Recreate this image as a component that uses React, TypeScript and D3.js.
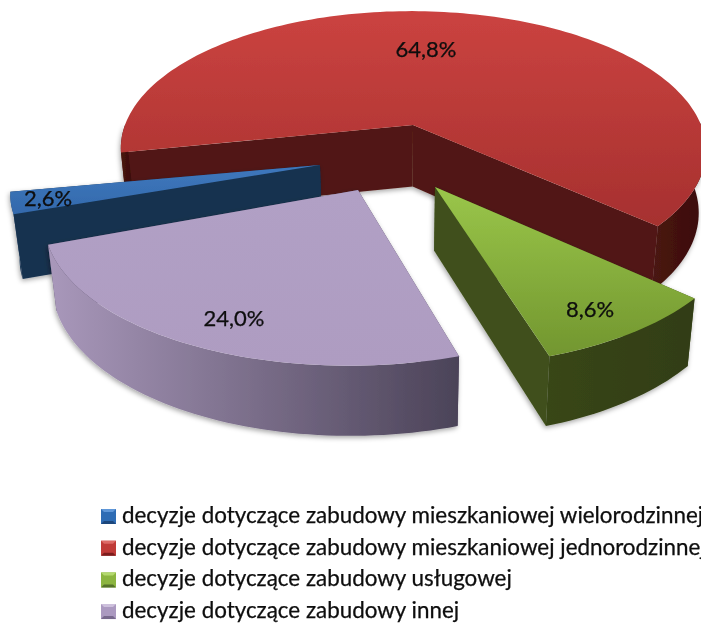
import React from "react";
import * as d3 from "d3";

const categories = [
  "decyzje dotyczące zabudowy mieszkaniowej wielorodzinnej",
  "decyzje dotyczące zabudowy mieszkaniowej jednorodzinnej",
  "decyzje dotyczące zabudowy usługowej",
  "decyzje dotyczące zabudowy innej",
];
const values = [2.6, 64.8, 8.6, 24.0];
const valueLabels = ["2,6%", "64,8%", "8,6%", "24,0%"];

const W = 701, H = 623;
const rad = (d: number) => (d * Math.PI) / 180;
const FIRST_ANGLE = rad(249.2);
const PERSPECTIVE = 0.176;
const VANISH_X = 400;

// per-slice placement of the exploded wedges: apex, radius, tilt, label position
const geometry = [
  { ax: 320, ay: 165, R: 302, k: 0.43, lx: 48, ly: 198 },
  { ax: 413, ay: 125, R: 288, k: 0.465, lx: 426, ly: 49 },
  { ax: 435, ay: 187, R: 302, k: 0.488, lx: 590, ly: 309 },
  { ax: 358, ay: 190, R: 308, k: 0.47, lx: 234, ly: 318 },
];
const palette = [
  { id: "b", top0: "#3f78bd", top1: "#3369ac", radial: "#163250", outer0: "#1a3a5e", outer1: "#163250", sw: "#2f6cb4", hi: "#5f97d8", lo: "#1c477c" },
  { id: "r", top0: "#cb4340", top1: "#a6302f", radial: "#511713", outer0: "#4a1412", outer1: "#3a0e0d", sw: "#c03a38", hi: "#dd6a66", lo: "#7c1f1e" },
  { id: "g", top0: "#9ac64a", top1: "#72962f", radial: "#3f501b", outer0: "#384617", outer1: "#323d13", sw: "#8cb53f", hi: "#b4d96e", lo: "#55722a" },
  { id: "p", top0: "#b1a0c5", top1: "#ae9cc1", radial: "#4d455c", outer0: "#a998bb", outer1: "#4b4358", sw: "#ab99c0", hi: "#cdc0dc", lo: "#77688c" },
];
const paintOrder = [1, 0, 3, 2];

const pie = d3.pie<number>().sort(null).startAngle(FIRST_ANGLE).endAngle(FIRST_ANGLE + 2 * Math.PI);
const arcs = pie(values);
const line = d3.line<[number, number]>();

type G = (typeof geometry)[number];
type P = [number, number];
function project(g: G, phi: number): P {
  const u = Math.sin(phi), v = -Math.cos(phi);
  const s = 1 / (1 - PERSPECTIVE * v);
  return [g.ax + (g.ax - VANISH_X) * (s - 1) + g.R * u * s, g.ay + g.R * g.k * v * s];
}
function drop(p: P): P {
  const d = 57 + 0.036 * p[1];
  return [p[0] + (VANISH_X - p[0]) * 0.0237, p[1] + d];
}
const closed = (pts: P[]) => (line(pts) as string) + "Z";

// runs of the rim that face the viewer, sampled along the slice's arc
function frontRuns(g: G, a0: number, a1: number): P[][] {
  const n = Math.max(8, Math.ceil(((a1 - a0) / Math.PI) * 120));
  const runs: P[][] = [];
  let cur: P[] = [];
  d3.range(n + 1).forEach((i) => {
    const phi = a0 + ((a1 - a0) * i) / n;
    if (-Math.cos(phi) >= -0.03) cur.push(project(g, phi));
    else if (cur.length) {
      runs.push(cur);
      cur = [];
    }
  });
  if (cur.length) runs.push(cur);
  return runs;
}
function rim(g: G, a0: number, a1: number): P[] {
  const n = Math.max(8, Math.ceil(((a1 - a0) / Math.PI) * 120));
  return d3.range(n + 1).map((i) => project(g, a0 + ((a1 - a0) * i) / n));
}

const SW = 15;

export default function App() {
  return (
    <svg width={W} height={H} viewBox={`0 0 ${W} ${H}`} style={{ position: "absolute", left: 0, top: 0, background: "#fff" }}>
      <defs>
        <filter id="soft" x="-10%" y="-10%" width="120%" height="120%">
          <feGaussianBlur stdDeviation="0.6" />
        </filter>
        <filter id="txt" x="-5%" y="-20%" width="110%" height="140%">
          <feGaussianBlur stdDeviation="0.4" />
        </filter>
        <filter id="shadow" x="-10%" y="-10%" width="120%" height="120%">
          <feDropShadow dx="-1" dy="2" stdDeviation="2.5" floodColor="#000" floodOpacity="0.35" />
        </filter>
        {palette.map((c) => (
          <React.Fragment key={c.id}>
            <linearGradient id={`top-${c.id}`} x1="0" y1="0" x2="0" y2="1">
              <stop offset="0" stopColor={c.top0} />
              <stop offset="1" stopColor={c.top1} />
            </linearGradient>
            <linearGradient id={`outer-${c.id}`} x1="0" y1="0" x2="1" y2="0">
              <stop offset="0" stopColor={c.outer0} />
              <stop offset="1" stopColor={c.outer1} />
            </linearGradient>
          </React.Fragment>
        ))}
      </defs>
      <g filter="url(#soft)">
        {paintOrder.map((i) => {
          const a = arcs[i], g = geometry[i], c = palette[i];
          const edge = rim(g, a.startAngle, a.endAngle);
          const apex: P = [g.ax, g.ay];
          const first = edge[0], last = edge[edge.length - 1];
          const wall = (p: P, q: P) => closed([p, q, drop(q), drop(p)]);
          return (
            <g key={c.id}>
              <g filter="url(#shadow)">
                <path d={wall(apex, first)} fill={c.radial} />
                <path d={wall(apex, last)} fill={c.radial} />
                {frontRuns(g, a.startAngle, a.endAngle).map((run, j) => (
                  <path key={j} d={closed([...run, ...run.map(drop).reverse()])} fill={`url(#outer-${c.id})`} />
                ))}
              </g>
              <path d={closed([apex, ...edge])} fill={`url(#top-${c.id})`} />
            </g>
          );
        })}
      </g>
      <g filter="url(#txt)" fontFamily="Lato, sans-serif" fill="#0c0c0c" stroke="#0c0c0c" strokeWidth={0.25}>
        {valueLabels.map((t, i) => (
          <text key={t} x={geometry[i].lx} y={geometry[i].ly + 8} textAnchor="middle" fontSize={22}>
            {t}
          </text>
        ))}
        {categories.map((t, i) => {
          const c = palette[i];
          const b = 3;
          return (
            <g key={t} transform={`translate(101, ${509 + i * 31.7})`}>
              <g stroke="none">
                <rect width={SW} height={SW} fill={c.sw} />
                <polygon points={`0,0 ${SW},0 ${SW - b},${b} ${b},${b}`} fill={c.hi} />
                <polygon points={`0,${SW} ${SW},${SW} ${SW - b},${SW - b} ${b},${SW - b}`} fill={c.lo} />
              </g>
              <text x={21} y={14} fontSize={22.4}>
                {t}
              </text>
            </g>
          );
        })}
      </g>
    </svg>
  );
}
